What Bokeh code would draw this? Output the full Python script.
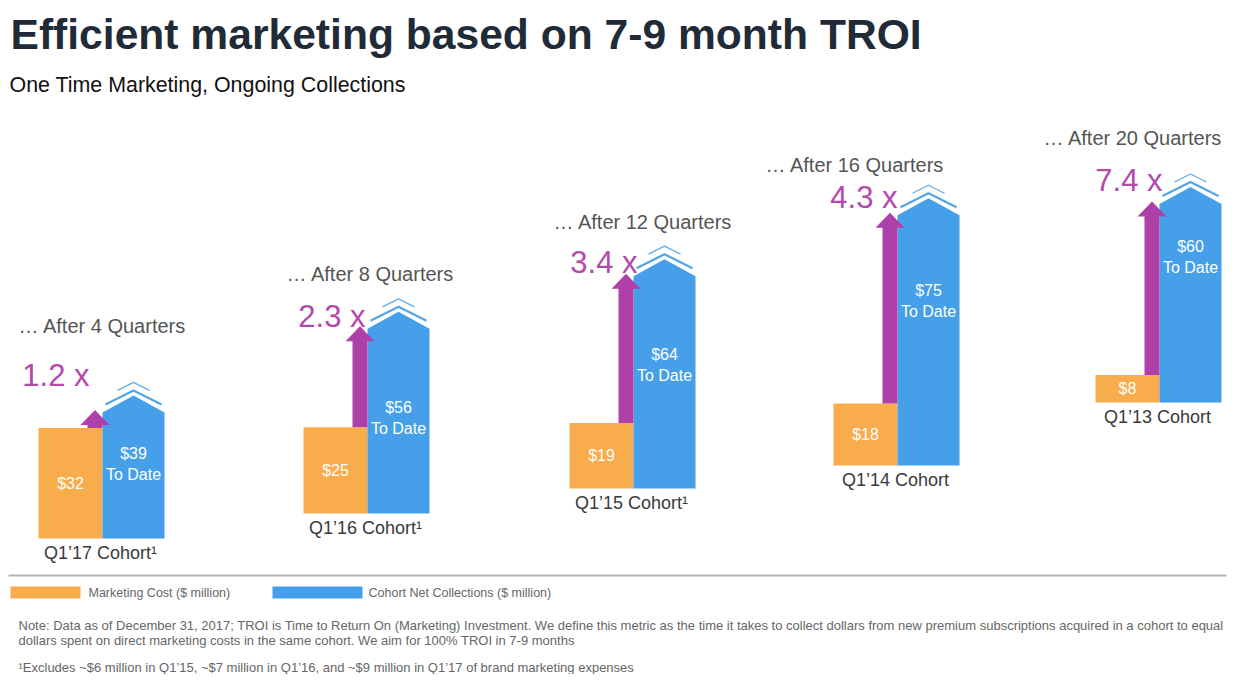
from bokeh.plotting import figure
from bokeh.models import Range1d
from bokeh.core.properties import value
from bokeh.embed import file_html
from bokeh.resources import INLINE

# ---------------- data ----------------
cohorts = ["Q1\u201917 Cohort\u00b9", "Q1\u201916 Cohort\u00b9", "Q1\u201915 Cohort\u00b9",
           "Q1\u201914 Cohort", "Q1\u201913 Cohort"]
quarters = ["\u2026 After 4 Quarters", "\u2026 After 8 Quarters", "\u2026 After 12 Quarters",
            "\u2026 After 16 Quarters", "\u2026 After 20 Quarters"]
marketing_cost = [32, 25, 19, 18, 8]          # $ million
net_collections = [39, 56, 64, 75, 60]        # $ million, to date
troi_multiple = [1.2, 2.3, 3.4, 4.3, 7.4]

title_text = "Efficient marketing based on 7-9 month TROI"
subtitle_text = "One Time Marketing, Ongoing Collections"
legend_labels = ["Marketing Cost ($ million)", "Cohort Net Collections ($ million)"]
note_lines = [
    "Note: Data as of December 31, 2017; TROI is Time to Return On (Marketing) Investment. We define this metric as the time it takes to collect dollars from new premium subscriptions acquired in a cohort to equal",
    "dollars spent on direct marketing costs in the same cohort. We aim for 100% TROI in 7-9 months",
]
footnote = "\u00b9Excludes ~$6 million in Q1\u201915, ~$7 million in Q1\u201916, and ~$9 million in Q1\u201917 of brand marketing expenses"

# ---------------- layout / style ----------------
W, H = 1230, 674
PX_PER_USD = 3.45
PAGE_LEFT, PAGE_TOP = 0, 0
PAGE_BOTTOM = PAGE_TOP + H
FONT = value("Liberation Sans")
ORANGE = "#F8AC4C"
BLUE = "#459FE9"
CHEV = "#4FA6EB"
PURPLE = "#AF3FA9"
PURPLE_TXT = "#B349AD"


def y_of(py):
    return (PAGE_BOTTOM - py) / PX_PER_USD


def dy(px):
    return px / PX_PER_USD


baseline_py = [538, 513, 488, 465, 402]
split_x = [102, 367, 633, 897, 1159]
ORANGE_W, BLUE_W = 64, 62
ROOF = 17
quarter_pos = [(18, 325), (286, 273), (553, 221), (765, 164), (1043, 137)]
multiple_pos = [(89, 375), (365, 316), (637, 262), (897, 197), (1162, 180)]
blue_label_py = [463, 417, 364, 300, 256]

p = figure(width=W, height=H, x_range=Range1d(PAGE_LEFT, PAGE_LEFT + W),
           y_range=Range1d(y_of(PAGE_TOP + H), y_of(PAGE_TOP)),
           output_backend="svg", toolbar_location=None, min_border=0,
           x_axis_type=None, y_axis_type=None)
p.grid.visible = False
p.outline_line_color = None
p.background_fill_color = "white"
p.border_fill_color = "white"

base = [y_of(b) for b in baseline_py]
o_top = [b + m for b, m in zip(base, marketing_cost)]
b_top = [b + c for b, c in zip(base, net_collections)]
o_cx = [s - ORANGE_W / 2 for s in split_x]
b_cx = [s + BLUE_W / 2 for s in split_x]

# orange bars
p.vbar(x=o_cx, width=ORANGE_W, bottom=base, top=o_top, fill_color=ORANGE, line_color=None)

# blue "house" bars
hx, hy = [], []
for s, b, t in zip(split_x, base, b_top):
    hx.append([s, s, s + BLUE_W / 2, s + BLUE_W, s + BLUE_W])
    hy.append([b, t - dy(ROOF / 2), t + dy(ROOF / 2), t - dy(ROOF / 2), b])
p.patches(hx, hy, fill_color=BLUE, line_color=None)

# chevrons above the roofs
c1x, c1y, c2x, c2y = [], [], [], []
for cx, t in zip(b_cx, b_top):
    peak = t + dy(ROOF / 2)
    c1x.append([cx - 28, cx, cx + 28])
    c1y.append([peak - dy(9), peak + dy(5), peak - dy(9)])
    c2x.append([cx - 16, cx, cx + 16])
    c2y.append([peak + dy(5), peak + dy(13), peak + dy(5)])
p.multi_line(c1x, c1y, line_color=CHEV, line_width=2.2)
p.multi_line(c2x, c2y, line_color="#5EAEEC", line_width=1.3)

# purple arrows from marketing cost to collections
tip = [t - dy(6) for t in b_top]
p.quad(left=[s - 15 for s in split_x], right=split_x, bottom=o_top,
       top=[t - dy(14) for t in tip], fill_color=PURPLE, line_color=None)
ax, ay = [], []
for s, t in zip(split_x, tip):
    ax.append([s - 22, s - 7.5, s + 7])
    ay.append([t - dy(15), t, t - dy(15)])
p.patches(ax, ay, fill_color=PURPLE, line_color=None)

# value labels
p.text(x=o_cx, y=[b + m / 2 for b, m in zip(base, marketing_cost)],
       text=[f"${m}" for m in marketing_cost], text_align="center", text_baseline="middle",
       text_color="white", text_font=FONT, text_font_size="16px")
p.text(x=b_cx, y=[y_of(py - 10.5) for py in blue_label_py],
       text=[f"${c}" for c in net_collections], text_align="center", text_baseline="middle",
       text_color="white", text_font=FONT, text_font_size="16px")
p.text(x=b_cx, y=[y_of(py + 10.5) for py in blue_label_py],
       text=["To Date"] * len(net_collections), text_align="center", text_baseline="middle",
       text_color="white", text_font=FONT, text_font_size="16px")

# multiples
p.text(x=[m[0] for m in multiple_pos], y=[y_of(m[1]) for m in multiple_pos],
       text=[f"{v} x" for v in troi_multiple], text_align="right", text_baseline="middle",
       text_color=PURPLE_TXT, text_font=FONT, text_font_size="31px")

# quarter headers
p.text(x=[q[0] for q in quarter_pos], y=[y_of(q[1]) for q in quarter_pos],
       text=quarters, text_align="left", text_baseline="middle",
       text_color="#555555", text_font=FONT, text_font_size="20px")

# cohort labels
p.text(x=[s - 2 for s in split_x], y=[b - dy(14) for b in base],
       text=cohorts, text_align="center", text_baseline="middle",
       text_color="#3A3A3A", text_font=FONT, text_font_size="18px")

# title and subtitle
p.text(x=[10], y=[y_of(33)], text=[title_text], text_align="left", text_baseline="middle",
       text_color="#212B37", text_font=FONT, text_font_size="42.6px", text_font_style="bold")
p.text(x=[9], y=[y_of(84)], text=[subtitle_text], text_align="left", text_baseline="middle",
       text_color="#111111", text_font=FONT, text_font_size="21.4px")

# separator
p.segment(x0=[8], y0=[y_of(575)], x1=[1226], y1=[y_of(575)], line_color="#B3B3B3", line_width=2)

# legend
p.quad(left=[10, 272], right=[80, 362], top=[y_of(586)] * 2, bottom=[y_of(598)] * 2,
       fill_color=[ORANGE, BLUE], line_color=None)
p.text(x=[88, 368], y=[y_of(592)] * 2, text=legend_labels, text_align="left",
       text_baseline="middle", text_color="#666666", text_font=FONT, text_font_size="12.5px")

# notes
p.text(x=[18, 18, 18], y=[y_of(625), y_of(640), y_of(667)], text=note_lines + [footnote],
       text_align="left", text_baseline="middle", text_color="#666666",
       text_font=FONT, text_font_size="13px")

open("out.html", "w").write(file_html(p, INLINE))
